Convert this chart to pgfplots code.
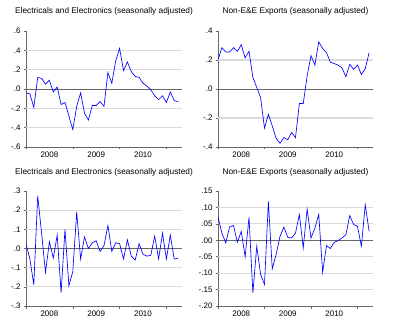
\documentclass[border=0pt]{standalone}
\usepackage{fontspec}
\setmainfont{Liberation Sans}
\usepackage{pgfplots}
\pgfplotsset{compat=1.18}
\definecolor{ser}{RGB}{100,100,255}
\definecolor{gridc}{RGB}{218,218,218}
\tikzset{gl/.style={draw=gridc, line width=1.2pt}, zl/.style={draw=black!60, line width=0.8pt}}
\pgfplotsset{ev/.style={
  scale only axis, xmin=0, xmax=40,
  axis x line*=bottom, axis y line*=left,
  axis line style={black!60, line width=0.6pt},
  tick style={black!60, line width=0.6pt},
  tick align=outside, major tick length=2.5pt,
  xtick={0,12,24,36}, xticklabels={},
  extra x ticks={6,18,30}, extra x tick labels={2008,2009,2010},
  extra x tick style={major tick length=0pt, tick label style={yshift=-1pt}},
  tick label style={font=\fontsize{8}{9}\selectfont},
  yticklabel style={xshift=0.5pt},
  /pgf/number format/assume math mode=true,
  title style={font=\fontsize{8.3}{10}\selectfont, at={(0.5,1)}, anchor=base, yshift=11pt},
  anchor=north west,
  every axis plot/.append style={ser, line width=0.65pt, no markers},
}}
\begin{document}
\begin{tikzpicture}
\path (0,0) rectangle (393pt,330pt);
% top-left
\begin{axis}[ev, at={(26pt,299pt)}, width=156pt, height=116pt,
  ymin=-0.6, ymax=0.6,
  ytick={-0.6,-0.4,-0.2,0,0.2,0.4,0.6},
  yticklabels={-.6,-.4,-.2,.0,.2,.4,.6},
  title={Electricals and Electronics (seasonally adjusted)}]
\draw[gl] (axis cs:0,0.4) -- (axis cs:40,0.4);
\draw[gl] (axis cs:0,0.2) -- (axis cs:40,0.2);
\draw[gl] (axis cs:0,-0.2) -- (axis cs:40,-0.2);
\draw[gl] (axis cs:0,-0.4) -- (axis cs:40,-0.4);
\draw[zl] (axis cs:0,0) -- (axis cs:40,0);
\addplot table[x expr=\coordindex, y index=0, header=false] {
-0.04
-0.05
-0.19
0.12
0.11
0.05
0.09
-0.03
0.02
-0.16
-0.14
-0.28
-0.42
-0.18
-0.04
-0.25
-0.32
-0.17
-0.17
-0.13
-0.18
0.17
0.06
0.29
0.42
0.19
0.28
0.18
0.13
0.12
0.06
0.03
-0.01
-0.07
-0.11
-0.07
-0.14
-0.03
-0.12
-0.13
};
\end{axis}
% top-right
\begin{axis}[ev, at={(218pt,299pt)}, width=155pt, height=116pt,
  ymin=-0.4, ymax=0.4,
  ytick={-0.4,-0.2,0,0.2,0.4},
  yticklabels={-.4,-.2,.0,.2,.4},
  title={Non-E\&E Exports (seasonally adjusted)}]
\draw[gl] (axis cs:0,0.2) -- (axis cs:40,0.2);
\draw[gl] (axis cs:0,-0.2) -- (axis cs:40,-0.2);
\draw[zl] (axis cs:0,0) -- (axis cs:40,0);
\addplot table[x expr=\coordindex, y index=0, header=false] {
0.20
0.285
0.255
0.255
0.285
0.26
0.305
0.215
0.26
0.08
0.01
-0.06
-0.27
-0.175
-0.255
-0.34
-0.375
-0.335
-0.35
-0.30
-0.335
-0.10
-0.10
0.09
0.23
0.165
0.325
0.28
0.25
0.185
0.175
0.165
0.145
0.085
0.17
0.135
0.165
0.10
0.14
0.25
};
\end{axis}
% bottom-left
\begin{axis}[ev, at={(26pt,139pt)}, width=156pt, height=115pt,
  ymin=-0.3, ymax=0.3,
  ytick={-0.3,-0.2,-0.1,0,0.1,0.2,0.3},
  yticklabels={-.3,-.2,-.1,.0,.1,.2,.3},
  title={Electricals and Electronics (seasonally adjusted)}]
\draw[gl] (axis cs:0,0.2) -- (axis cs:40,0.2);
\draw[gl] (axis cs:0,0.1) -- (axis cs:40,0.1);
\draw[gl] (axis cs:0,-0.1) -- (axis cs:40,-0.1);
\draw[gl] (axis cs:0,-0.2) -- (axis cs:40,-0.2);
\draw[zl] (axis cs:0,0) -- (axis cs:40,0);
\addplot table[x expr=\coordindex, y index=0, header=false] {
0.025
-0.055
-0.19
0.275
0.08
-0.125
0.035
-0.05
0.07
-0.23
0.10
-0.195
-0.12
0.19
-0.055
0.06
0.0
0.03
0.04
-0.015
0.015
0.12
-0.015
0.03
0.025
-0.055
0.045
-0.04
-0.06
0.025
-0.03
-0.04
-0.035
0.065
-0.055
0.08
-0.055
0.07
-0.055
-0.05
};
\end{axis}
% bottom-right
\begin{axis}[ev, at={(218pt,139pt)}, width=155pt, height=115pt,
  ymin=-0.2, ymax=0.15,
  ytick={-0.2,-0.15,-0.1,-0.05,0,0.05,0.1,0.15},
  yticklabels={-.20,-.15,-.10,-.05,.00,.05,.10,.15},
  title={Non-E\&E Exports (seasonally adjusted)}]
\draw[gl] (axis cs:0,0.1) -- (axis cs:40,0.1);
\draw[gl] (axis cs:0,0.05) -- (axis cs:40,0.05);
\draw[gl] (axis cs:0,-0.05) -- (axis cs:40,-0.05);
\draw[gl] (axis cs:0,-0.1) -- (axis cs:40,-0.1);
\draw[gl] (axis cs:0,-0.15) -- (axis cs:40,-0.15);
\draw[zl] (axis cs:0,0) -- (axis cs:40,0);
\addplot table[x expr=\coordindex, y index=0, header=false] {
0.071
0.022
-0.008
0.041
0.045
-0.006
0.027
-0.05
0.07
-0.16
-0.018
-0.104
-0.134
0.118
-0.087
-0.043
0.012
0.04
0.009
0.007
0.022
0.078
-0.023
0.095
0.007
0.037
0.079
-0.097
-0.016
-0.025
-0.006
-0.001
0.007
0.017
0.075
0.048
0.042
-0.018
0.108
0.027
};
\end{axis}
\end{tikzpicture}
\end{document}
